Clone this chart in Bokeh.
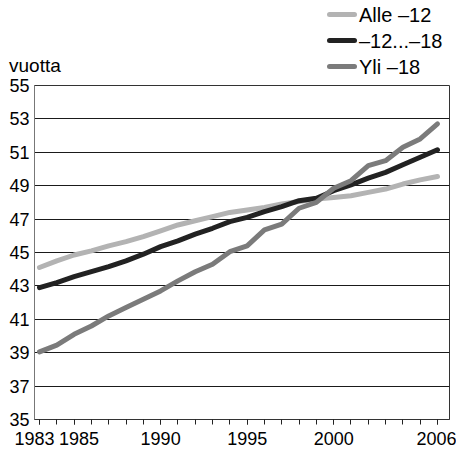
from bokeh.plotting import figure
from bokeh.layouts import column
from bokeh.models import FixedTicker, Range1d, Div
from bokeh.embed import file_html
from bokeh.resources import INLINE

years = list(range(1983, 2007))
alle_12 = [44.1, 44.5, 44.85, 45.1, 45.4, 45.65, 45.95, 46.3, 46.65, 46.9, 47.15, 47.4,
           47.55, 47.7, 47.9, 48.05, 48.2, 48.3, 48.4, 48.6, 48.8, 49.1, 49.35, 49.55]
v12_18 = [42.9, 43.2, 43.55, 43.85, 44.15, 44.5, 44.9, 45.35, 45.7, 46.1, 46.45, 46.85,
          47.1, 47.45, 47.75, 48.1, 48.25, 48.7, 49.05, 49.45, 49.8, 50.25, 50.7, 51.15]
yli_18 = [39.05, 39.45, 40.1, 40.6, 41.2, 41.7, 42.2, 42.7, 43.3, 43.85, 44.3, 45.05,
          45.4, 46.35, 46.7, 47.65, 48.0, 48.85, 49.3, 50.2, 50.5, 51.3, 51.8, 52.7]
series_names = ["Alle \u201312", "\u201312...\u201318", "Yli \u201318"]
x_labels = [1983, 1985, 1990, 1995, 2000, 2006]
y_ticks = list(range(35, 57, 2))
y_title = "vuotta"

FONT = "Liberation Sans"
colors = ["#b3b3b3", "#222222", "#7b7b7b"]
W = 456
TOP_H = 75
MAIN_H = 376
NB = "\u00a0"

# ---- header strip (unit text + legend), drawn above the plot ----
parts = ['<div style="position:relative;width:%dpx;height:%dpx;margin:0;padding:0;'
         'font-family:\'%s\',Arial,sans-serif;color:#000;">' % (W, TOP_H, FONT)]
parts.append('<span style="position:absolute;left:9px;top:56px;font-size:19px;'
             'line-height:20px;white-space:nowrap;">%s</span>' % y_title)
row_line_tops = [12, 38, 64]
row_text_tops = [4, 30, 56]
for name, c, lt, tt in zip(series_names, colors, row_line_tops, row_text_tops):
    parts.append('<span style="position:absolute;left:327px;top:%dpx;width:30px;height:5px;'
                 'background:%s;border-radius:2.5px;"></span>' % (lt, c))
    parts.append('<span style="position:absolute;left:359px;top:%dpx;font-size:20px;'
                 'line-height:22px;white-space:nowrap;">%s</span>' % (tt, name))
parts.append('</div>')
header = Div(text="".join(parts), width=W, height=TOP_H, margin=0)

# ---- main chart ----
p = figure(width=W, height=MAIN_H, output_backend="svg", toolbar_location=None,
           x_range=Range1d(1982.711, 2006.694), y_range=Range1d(35, 55),
           min_border_left=34, min_border_right=7, min_border_top=10, min_border_bottom=31)
p.background_fill_color = "white"
p.border_fill_color = "white"
p.outline_line_color = "#333333"
p.outline_line_width = 1

for ys, c in zip([alle_12, v12_18, yli_18], colors):
    p.line(years, ys, line_color=c, line_width=5, line_cap="round", line_join="round")

p.xaxis.ticker = FixedTicker(ticks=x_labels, minor_ticks=years)
# nudge the two crowded first labels apart, as in the reference
p.xaxis.major_label_overrides = {x_labels[0]: str(x_labels[0]) + NB * 2,
                                 x_labels[1]: NB * 2 + str(x_labels[1])}
p.xaxis.major_tick_out = 5
p.xaxis.major_tick_in = 0
p.xaxis.minor_tick_out = 5
p.xaxis.minor_tick_in = 0
p.xaxis.major_tick_line_color = "#222222"
p.xaxis.minor_tick_line_color = "#222222"
p.xaxis.axis_line_color = "#333333"
p.xaxis.major_label_text_font = FONT
p.xaxis.major_label_text_font_size = "18px"
p.xaxis.major_label_text_color = "black"
p.xaxis.major_label_standoff = 4

p.yaxis.ticker = FixedTicker(ticks=y_ticks)
p.yaxis.major_tick_out = 0
p.yaxis.major_tick_in = 0
p.yaxis.minor_tick_line_color = None
p.yaxis.axis_line_color = "#777777"
p.yaxis.major_label_text_font = FONT
p.yaxis.major_label_text_font_size = "18px"
p.yaxis.major_label_text_color = "black"
p.yaxis.major_label_standoff = 5

p.xgrid.grid_line_color = None
p.ygrid.grid_line_color = "#1a1a1a"
p.ygrid.grid_line_width = 1

layout = column(header, p, spacing=0)
open("out.html", "w").write(file_html(layout, INLINE))
